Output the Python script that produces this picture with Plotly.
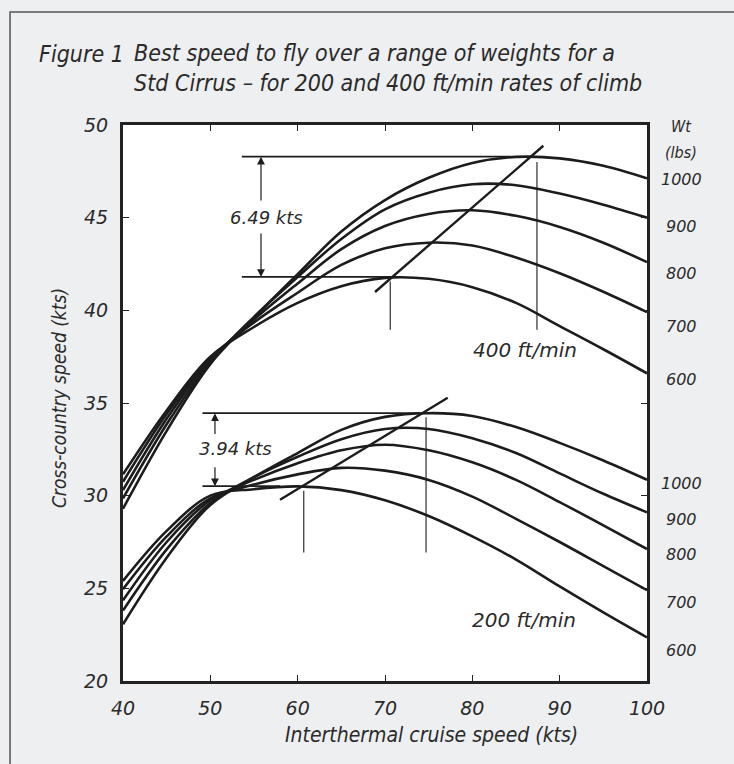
import plotly.graph_objects as go

# ---------------- data ----------------
speed = [40, 45, 50, 55, 60, 65, 70, 75, 80, 85, 90, 95, 100]
weights = [600, 700, 800, 900, 1000]

# 400 ft/min climb
xc400_w600 = [31.15, 34.6, 37.5, 39.1, 40.4, 41.3, 41.75, 41.7, 41.25, 40.4, 39.15, 37.9, 36.6]
xc400_w700 = [30.75, 34.4, 37.4, 39.35, 40.95, 42.45, 43.35, 43.65, 43.5, 42.85, 42.0, 41.0, 39.9]
xc400_w800 = [30.3, 34.15, 37.3, 39.5, 41.45, 43.3, 44.55, 45.2, 45.4, 45.1, 44.5, 43.65, 42.6]
xc400_w900 = [29.85, 33.85, 37.2, 39.65, 41.8, 43.85, 45.45, 46.35, 46.8, 46.75, 46.3, 45.7, 45.0]
xc400_w1000 = [29.3, 33.5, 37.1, 39.6, 41.95, 44.25, 45.95, 47.15, 47.95, 48.28, 48.2, 47.8, 47.12]

# 200 ft/min climb
xc200_w600 = [25.4, 28.1, 30.0, 30.35, 30.5, 30.3, 29.75, 28.9, 27.8, 26.55, 25.1, 23.7, 22.35]
xc200_w700 = [24.95, 27.8, 29.85, 30.6, 31.15, 31.5, 31.35, 30.85, 29.95, 28.75, 27.5, 26.2, 24.9]
xc200_w800 = [24.35, 27.5, 29.75, 30.85, 31.75, 32.45, 32.75, 32.45, 31.8, 30.85, 29.65, 28.4, 27.12]
xc200_w900 = [23.8, 27.1, 29.6, 31.0, 32.1, 33.05, 33.6, 33.6, 33.1, 32.3, 31.2, 30.1, 29.1]
xc200_w1000 = [23.06, 26.65, 29.5, 31.0, 32.3, 33.55, 34.25, 34.45, 34.3, 33.7, 32.85, 31.9, 30.86]

# weight label values on the right (kts level where the label sits)
wt_label_400 = [36.27, 39.14, 42.0, 44.54, 47.08]
wt_label_200 = [21.66, 24.23, 26.85, 28.74, 30.66]

# optimum markers
gap400 = [41.80, 48.29]          # min / max best XC speed, 400 ft/min
gap200 = [30.51, 34.45]          # min / max best XC speed, 200 ft/min
gap400_x = [53.6, 72.0, 84.3]    # start, end of lower line, end of upper line
gap200_x = [49.1, 58.0, 74.0]
arrow400 = [55.8, 45.85, 44.23]  # x, upper arrow tail, lower arrow tail
arrow200 = [50.53, 33.24, 31.62]
opt400_x = [70.6, 87.4]
opt400_top = [41.55, 48.0]
opt400_bottom = 38.95
opt200_x = [60.7, 74.7]
opt200_top = [30.27, 34.23]
opt200_bottom = 26.93
locus400_x = [68.86, 88.13]
locus400_y = [40.99, 48.88]
locus200_x = [57.98, 77.18]
locus200_y = [29.78, 35.28]

# ---------------- figure ----------------
INK = "#1c1c1c"
TXT = "#2a2a2a"
NUM_FONT = "DejaVu Sans"
COND_FONT = "DejaVu Sans Condensed, Liberation Sans Narrow, DejaVu Sans"

fig = go.Figure()

fam400 = [xc400_w600, xc400_w700, xc400_w800, xc400_w900, xc400_w1000]
fam200 = [xc200_w600, xc200_w700, xc200_w800, xc200_w900, xc200_w1000]
for fam in (fam400, fam200):
    for w, ys in zip(weights, fam):
        fig.add_trace(go.Scatter(x=speed, y=ys, mode="lines",
                                 line=dict(color=INK, width=2.6, shape="spline", smoothing=1.0),
                                 hoverinfo="skip", showlegend=False))

def seg(xs, ys, width):
    fig.add_trace(go.Scatter(x=xs, y=ys, mode="lines", line=dict(color=INK, width=width),
                             hoverinfo="skip", showlegend=False))

# horizontal bracket lines
seg([gap400_x[0], gap400_x[2]], [gap400[1], gap400[1]], 1.8)
seg([gap400_x[0], gap400_x[1]], [gap400[0], gap400[0]], 1.8)
seg([gap200_x[0], gap200_x[2]], [gap200[1], gap200[1]], 1.8)
seg([gap200_x[0], gap200_x[1]], [gap200[0], gap200[0]], 1.8)
# vertical optimum lines
for x, top in zip(opt400_x, opt400_top):
    seg([x, x], [top, opt400_bottom], 1.1)
for x, top in zip(opt200_x, opt200_top):
    seg([x, x], [top, opt200_bottom], 1.1)
# locus lines
seg(locus400_x, locus400_y, 2.4)
seg(locus200_x, locus200_y, 2.4)

ann = []
def arrow(x, y_head, y_tail):
    ann.append(dict(x=x, y=y_head, ax=x, ay=y_tail, xref="x", yref="y", axref="x", ayref="y",
                    text="", showarrow=True, arrowhead=2, arrowsize=1.3, arrowwidth=1.2,
                    arrowcolor=INK, standoff=0, startstandoff=0))

arrow(arrow400[0], gap400[1], arrow400[1])
arrow(arrow400[0], gap400[0], arrow400[2])
arrow(arrow200[0], gap200[1], arrow200[1])
arrow(arrow200[0], gap200[0], arrow200[2])

def label(x, y, text, size=19, family=NUM_FONT, xref="x", yref="y", xanchor="center", **kw):
    d = dict(x=x, y=y, xref=xref, yref=yref, text=text, showarrow=False, xanchor=xanchor,
             yanchor="middle", font=dict(family=family, size=size, color=TXT, style="italic"))
    d.update(kw)
    ann.append(d)

label(56.4, 45.01, "6.49 kts", size=18)
label(52.9, 32.52, "3.94 kts", size=18)
label(86.0, 37.84, "400 ft/min", size=20)
label(85.9, 23.3, "200 ft/min", size=20)

# right-hand weight labels
RX = 1.065
for w, y in zip(weights, wt_label_400):
    label(RX, y, str(w), size=16, xref="paper")
for w, y in zip(weights, wt_label_200):
    label(RX, y, str(w), size=16, xref="paper")
label(RX, 49.9, "Wt", size=16, xref="paper", family=COND_FONT)
label(RX, 48.5, "(lbs)", size=16, xref="paper", family=COND_FONT)

# titles
label(-0.164, 1.1277, "Figure 1", size=23, family=COND_FONT, xref="paper", yref="paper", xanchor="left")
label(0.017, 1.1034, "Best speed to fly over a range of weights for a<br>Std Cirrus – for 200 and 400 ft/min rates of climb",
      size=23, family=COND_FONT, xref="paper", yref="paper", xanchor="left", align="left")
label(-0.122, 0.509, "Cross-country speed (kts)", size=19, family=COND_FONT, xref="paper", yref="paper", textangle=-90)
label(0.588, -0.097, "Interthermal cruise speed (kts)", size=21, family=COND_FONT, xref="paper", yref="paper")

axis_common = dict(showgrid=False, zeroline=False, showline=True, linewidth=3, linecolor="#222",
                   mirror="ticks", ticks="inside", ticklen=6, tickwidth=1, tickcolor="#222",
                   tickfont=dict(family=NUM_FONT, size=19, color=TXT, style="italic"))

fig.update_layout(
    width=734, height=764, autosize=False,
    margin=dict(l=123, r=87, t=125, b=83),
    paper_bgcolor="#eeeff1", plot_bgcolor="#ffffff",
    xaxis=dict(range=[40, 100], tickvals=[40, 50, 60, 70, 80, 90, 100], ticklabelstandoff=8, **axis_common),
    yaxis=dict(range=[20, 50], tickvals=[20, 25, 30, 35, 40, 45, 50], ticklabelstandoff=8, **axis_common),
    annotations=ann,
    shapes=[dict(type="rect", xref="paper", yref="paper", x0=-0.2156, x1=1.6, y0=-0.6, y1=1.2032,
                 line=dict(color="#555", width=1.5), fillcolor="rgba(0,0,0,0)", layer="below")],
)

fig.write_html("out.html")
